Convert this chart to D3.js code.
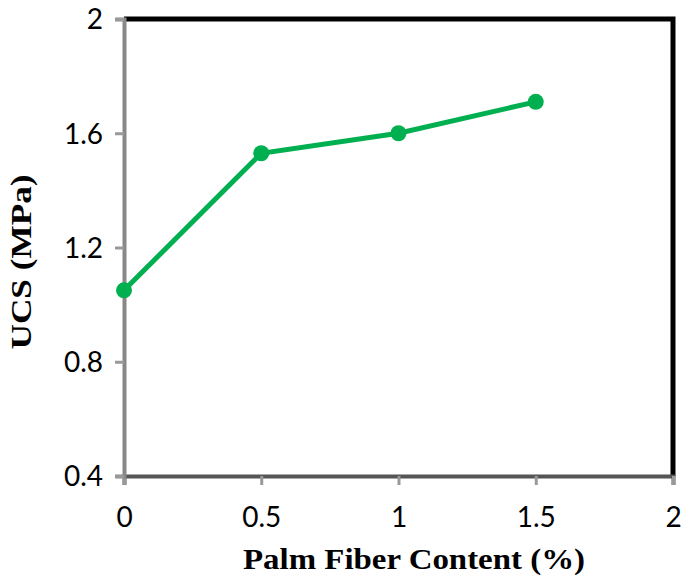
<!DOCTYPE html>
<html><head><meta charset="utf-8">
<script src="https://cdn.jsdelivr.net/npm/d3@7"></script>
<style>body{margin:0;background:#fff}svg{display:block}</style>
</head><body>
<svg id="c" width="685" height="584"></svg>
<script>
const fiber = [0, 0.5, 1, 1.5];
const ucs = [1.05, 1.53, 1.60, 1.71];
const xTicks = [0, 0.5, 1, 1.5, 2];
const yTicks = [0.4, 0.8, 1.2, 1.6, 2];
const xTitle = "Palm Fiber Content (%)";
const yTitle = "UCS (MPa)";

const svg = d3.select("#c");
const L = 124, R = 673, T = 19, B = 476;
const x = d3.scaleLinear().domain([0, 2]).range([L, R]);
const y = d3.scaleLinear().domain([0.4, 2]).range([B, T]);

svg.append("path").attr("d", `M${L},${T}H${R}V${B}`).attr("fill","none")
  .attr("stroke","#000").attr("stroke-width",5);

const xa = svg.append("g").attr("transform",`translate(0,${B})`)
  .call(d3.axisBottom(x).tickValues(xTicks).tickFormat(d3.format("")).tickSize(9).tickPadding(22));
const ya = svg.append("g").attr("transform",`translate(${L},0)`)
  .call(d3.axisLeft(y).tickValues(yTicks).tickFormat(d3.format("")).tickSize(9).tickPadding(12));
[xa, ya].forEach(g => {
  g.selectAll(".tick line").attr("stroke","#999").attr("stroke-width",3);
  g.selectAll("text").attr("font-family","Lato, 'Open Sans', sans-serif").attr("font-size",28).attr("fill","#000");
});
xa.select(".domain").attr("stroke","#555").attr("stroke-width",4);
ya.select(".domain").attr("stroke","#888").attr("stroke-width",4);
ya.selectAll("text").attr("dy","0.35em");

const line = d3.line().x((d,i)=>x(fiber[i])).y(d=>y(d));
svg.append("path").datum(ucs).attr("d", line).attr("fill","none")
  .attr("stroke","#00B050").attr("stroke-width",5);
svg.selectAll("circle.pt").data(ucs).enter().append("circle")
  .attr("cx",(d,i)=>x(fiber[i])).attr("cy",d=>y(d)).attr("r",8).attr("fill","#00B050");

svg.append("text").attr("x",414).attr("y",569).attr("text-anchor","middle")
  .attr("font-family","'Liberation Serif', 'Times New Roman', serif").attr("font-weight","bold")
  .attr("font-size",30).attr("textLength",342).attr("lengthAdjust","spacingAndGlyphs").text(xTitle);
svg.append("text").attr("transform","translate(31,262) rotate(-90)").attr("text-anchor","middle")
  .attr("font-family","'Liberation Serif', 'Times New Roman', serif").attr("font-weight","bold")
  .attr("font-size",30).attr("textLength",175).attr("lengthAdjust","spacingAndGlyphs").text(yTitle);
</script>
</body></html>
